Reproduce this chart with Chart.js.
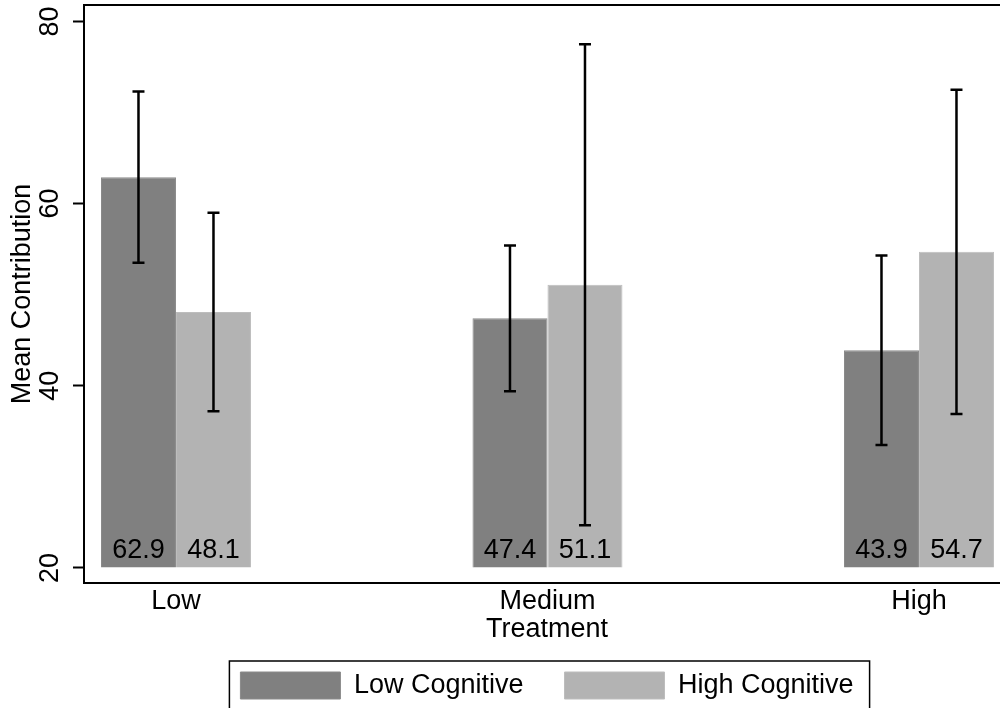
<!DOCTYPE html>
<html><head><meta charset="utf-8">
<script src="https://cdn.jsdelivr.net/npm/chart.js@4.4.1/dist/chart.umd.min.js"></script>
<style>html,body{margin:0;padding:0;overflow:hidden;background:#fff;width:1000px;height:708px}
canvas{display:block}</style></head>
<body><canvas id="c" width="1010" height="709" style="width:1010px;height:709px"></canvas>
<script>
const categories = ['Low', 'Medium', 'High'];
const seriesNames = ['Low Cognitive', 'High Cognitive'];
const lowCognitive = [62.9, 47.4, 43.9];
const highCognitive = [48.1, 51.1, 54.7];
const lowCognitiveLower = [53.5, 39.4, 33.5];
const lowCognitiveUpper = [72.3, 55.4, 54.3];
const highCognitiveLower = [37.2, 24.7, 36.9];
const highCognitiveUpper = [59.0, 77.5, 72.5];
const yTickValues = [20, 40, 60, 80];
const barBase = 20;

const FONT = "'Liberation Sans', Arial, Helvetica, sans-serif";
const FS = 27;
Chart.defaults.font.family = FONT;
Chart.defaults.font.size = FS;
Chart.defaults.color = '#000';

const errLow = [lowCognitiveLower, highCognitiveLower];
const errHigh = [lowCognitiveUpper, highCognitiveUpper];

const framePlugin = {
  id: 'frame',
  afterDraw(chart) {
    const {ctx, chartArea: a} = chart;
    ctx.save();
    ctx.strokeStyle = '#000';
    ctx.lineWidth = 2;
    ctx.beginPath();
    ctx.moveTo(a.right + 5, a.top);
    ctx.lineTo(a.left, a.top);
    ctx.lineTo(a.left, a.bottom);
    ctx.lineTo(a.right + 5, a.bottom);
    ctx.stroke();
    ctx.restore();
  }
};

const errorBarPlugin = {
  id: 'errbars',
  afterDatasetsDraw(chart) {
    const {ctx} = chart;
    const y = chart.scales.y;
    ctx.save();
    chart.data.datasets.forEach((ds, i) => {
      const meta = chart.getDatasetMeta(i);
      meta.data.forEach((el, j) => {
        ctx.fillStyle = '#000';
        ctx.font = FS + 'px ' + FONT;
        ctx.textAlign = 'center';
        ctx.textBaseline = 'alphabetic';
        ctx.fillText(ds.data[j].y.toFixed(1), el.x, y.getPixelForValue(barBase) - 10);
        const yl = y.getPixelForValue(errLow[i][j]);
        const yh = y.getPixelForValue(errHigh[i][j]);
        ctx.strokeStyle = '#000';
        ctx.lineWidth = 2.5;
        ctx.beginPath();
        ctx.moveTo(el.x, yl); ctx.lineTo(el.x, yh);
        ctx.moveTo(el.x - 6, yl); ctx.lineTo(el.x + 6, yl);
        ctx.moveTo(el.x - 6, yh); ctx.lineTo(el.x + 6, yh);
        ctx.stroke();
      });
    });
    ctx.restore();
  }
};

const legendFramePlugin = {
  id: 'legendFrame',
  afterDraw(chart) {
    const hb = chart.legend && chart.legend.legendHitBoxes;
    if (!hb || !hb.length) return;
    const first = hb[0], last = hb[hb.length - 1];
    const {ctx} = chart;
    ctx.save();
    ctx.strokeStyle = '#000';
    ctx.lineWidth = 1.5;
    const l = first.left - 11, t = first.top - 11;
    const r = last.left + last.width + 16, b = first.top + first.height + 11;
    ctx.strokeRect(l, t, r - l, b - t);
    ctx.restore();
  }
};

new Chart(document.getElementById('c'), {
  type: 'bar',
  data: {
    datasets: [
      {
        label: seriesNames[0],
        data: lowCognitive.map((v, i) => ({x: i, y: v})),
        base: barBase,
        backgroundColor: '#808080',
        borderColor: '#8a8a8a',
        borderWidth: 1,
        borderSkipped: 'start'
      },
      {
        label: seriesNames[1],
        data: highCognitive.map((v, i) => ({x: i, y: v})),
        base: barBase,
        backgroundColor: '#b3b3b3',
        borderColor: '#bdbdbd',
        borderWidth: 1,
        borderSkipped: 'start'
      }
    ]
  },
  options: {
    responsive: false,
    animation: false,
    devicePixelRatio: 1,
    categoryPercentage: 150 / 371.5,
    barPercentage: 1,
    layout: {padding: {top: 5, left: 0, right: 0, bottom: 0}},
    scales: {
      x: {
        type: 'linear',
        offset: false,
        min: -0.2476,
        max: 2.245,
        afterBuildTicks: s => { s.ticks = categories.map((c, i) => ({value: i})); },
        afterFit: s => { s.height = 48; s.paddingLeft = 0; s.paddingRight = 0; },
        ticks: {
          callback: v => categories[v] ?? '',
          padding: 2,
          maxRotation: 0,
          autoSkip: false,
          font: {size: FS}
        },
        grid: {display: true, offset: false, drawOnChartArea: false, drawTicks: false},
        border: {display: false},
        title: {display: true, text: 'Treatment', font: {size: FS}, padding: {top: 0, bottom: -15}}
      },
      y: {
        type: 'linear',
        min: 18.35,
        max: 81.8,
        afterBuildTicks: s => { s.ticks = yTickValues.map(v => ({value: v})); },
        afterFit: s => { s.width = 84; s.paddingTop = 0; s.paddingBottom = 0; },
        ticks: {
          minRotation: 90,
          maxRotation: 90,
          crossAlign: 'center',
          padding: 7,
          autoSkip: false,
          font: {size: FS}
        },
        grid: {drawOnChartArea: false, drawTicks: true, tickLength: 11, tickColor: '#000', tickWidth: 2},
        border: {display: false},
        title: {display: true, text: 'Mean Contribution', font: {size: FS}, padding: {top: 6, bottom: 0}}
      }
    },
    plugins: {
      legend: {
        position: 'bottom',
        fullSize: false,
        labels: {
          boxWidth: 100,
          boxHeight: 27,
          padding: 41,
          font: {size: FS},
          color: '#000'
        }
      },
      tooltip: {enabled: false}
    }
  },
  plugins: [framePlugin, errorBarPlugin, legendFramePlugin]
});
</script>
</body></html>
